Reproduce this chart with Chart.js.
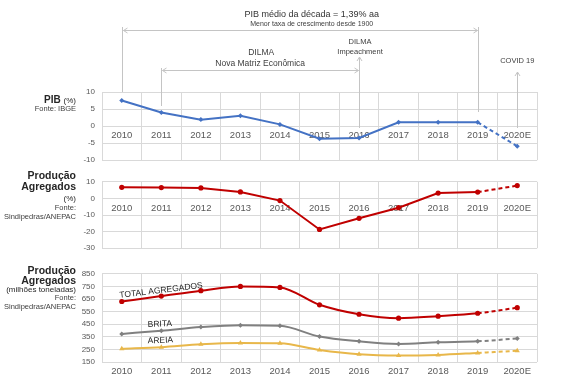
<!DOCTYPE html>
<html><head><meta charset="utf-8">
<script src="https://cdn.jsdelivr.net/npm/chart.js@4"></script>
<style>
body{margin:0;background:#fff;width:567px;height:389px;overflow:hidden;position:relative;font-family:"Liberation Sans",Arial,sans-serif;}
canvas{position:absolute;left:0}
.lab{position:absolute;right:491px;text-align:right;color:#262626;white-space:nowrap;line-height:1}
.b{font-weight:bold;font-size:10.5px}
.s{font-size:8px}
.f{font-size:7.5px;color:#404040}
</style></head><body>
<canvas id="c1" width="567" height="172" style="top:0"></canvas>
<canvas id="c2" width="567" height="90" style="top:170px"></canvas>
<canvas id="c3" width="567" height="127" style="top:262px"></canvas>

<div class="lab" style="top:95px;font-size:10px"><span style="font-weight:bold;font-size:10px">PIB</span> <span style="font-size:8px">(%)</span></div>
<div class="lab f" style="top:105px">Fonte: IBGE</div>

<div class="lab b" style="top:170px">Produção</div>
<div class="lab b" style="top:181px">Agregados</div>
<div class="lab s" style="top:195px">(%)</div>
<div class="lab f" style="top:204px">Fonte:</div>
<div class="lab f" style="top:213px">Sindipedras/ANEPAC</div>

<div class="lab b" style="top:265px">Produção</div>
<div class="lab b" style="top:275px">Agregados</div>
<div class="lab s" style="top:286px">(milhões toneladas)</div>
<div class="lab f" style="top:294px">Fonte:</div>
<div class="lab f" style="top:303px">Sindipedras/ANEPAC</div>

<script>
const categories = ['2010','2011','2012','2013','2014','2015','2016','2017','2018','2019','2020E'];
const pib = [7.5, 4.0, 1.9, 3.0, 0.5, -3.7, -3.5, 1.1, 1.1, 1.1, -5.9];
const prodPct = [6.7, 6.5, 6.3, 3.9, -1.3, -18.7, -12.0, -5.6, 3.2, 3.8, 7.7];
const totalAgregados = [630, 673, 716, 750, 742, 604, 529, 498, 514, 537, 581];
const brita = [373, 398, 427, 442, 437, 352, 314, 293, 306, 314, 337];
const areia = [255, 268, 291, 301, 298, 245, 211, 201, 206, 222, 239];

Chart.defaults.font.family = '"Liberation Sans", Arial, sans-serif';
Chart.defaults.animation = false;
Chart.defaults.devicePixelRatio = 1;

const GRID = '#d9d9d9';
const TICK = '#595959';
const dashLast = { borderDash: c => c.p1DataIndex === categories.length - 1 ? [4, 3] : undefined };

function opts(min, max, step, xAt, top, bottom) {
  return {
    responsive: false,
    maintainAspectRatio: false,
    layout: { padding: { left: 0, right: 30, top: top, bottom: bottom } },
    plugins: { legend: { display: false }, tooltip: { enabled: false } },
    scales: {
      x: {
        type: 'category', offset: true, position: { y: xAt },
        grid: { offset: true, color: GRID, drawTicks: false, tickLength: 0 },
        border: { display: false },
        ticks: { color: TICK, font: { size: 9.5 }, padding: 4, maxRotation: 0, autoSkip: false }
      },
      y: {
        position: 'left', min: min, max: max,
        ticks: { stepSize: step, color: TICK, font: { size: 8 }, padding: 7 },
        grid: { color: GRID, drawTicks: false, tickLength: 0 },
        border: { color: GRID },
        afterFit: s => { s.width = 102; }
      }
    }
  };
}

function arrowHead(ctx, x, y, dir) {
  ctx.beginPath();
  if (dir === 'left') { ctx.moveTo(x + 4, y - 2.5); ctx.lineTo(x, y); ctx.lineTo(x + 4, y + 2.5); }
  if (dir === 'right') { ctx.moveTo(x - 4, y - 2.5); ctx.lineTo(x, y); ctx.lineTo(x - 4, y + 2.5); }
  if (dir === 'up') { ctx.moveTo(x - 2.5, y + 4); ctx.lineTo(x, y); ctx.lineTo(x + 2.5, y + 4); }
  ctx.stroke();
}
function seg(ctx, x1, y1, x2, y2) { ctx.beginPath(); ctx.moveTo(x1, y1); ctx.lineTo(x2, y2); ctx.stroke(); }

const annot = {
  id: 'annot',
  beforeDatasetsDraw(chart) {
    const ctx = chart.ctx, xs = chart.scales.x;
    const X = i => Math.round(xs.getPixelForValue(i)) + 0.5;
    ctx.save();
    ctx.strokeStyle = '#c4c4c4'; ctx.lineWidth = 1;
    seg(ctx, X(0), 27, X(0), 92);
    seg(ctx, X(9), 27, X(9), 112);
    seg(ctx, X(0) + 1, 30.5, X(9) - 1, 30.5);
    arrowHead(ctx, X(0) + 1, 30.5, 'left'); arrowHead(ctx, X(9) - 1, 30.5, 'right');
    seg(ctx, X(1), 68, X(1), 106);
    seg(ctx, X(1) + 1, 70.5, X(6) - 1, 70.5);
    arrowHead(ctx, X(1) + 1, 70.5, 'left'); arrowHead(ctx, X(6) - 1, 70.5, 'right');
    seg(ctx, X(6), 57, X(6), 128); arrowHead(ctx, X(6), 57, 'up');
    seg(ctx, X(10), 72, X(10), 128); arrowHead(ctx, X(10), 72, 'up');
    ctx.restore();
  },
  afterDraw(chart) {
    const ctx = chart.ctx, xs = chart.scales.x;
    const X = i => xs.getPixelForValue(i);
    ctx.save();
    ctx.textAlign = 'center'; ctx.textBaseline = 'middle';
    const ff = '"Liberation Sans", Arial, sans-serif';
    const mid = (X(0) + X(9)) / 2 + 12;
    ctx.fillStyle = '#333';
    ctx.font = '9px ' + ff; ctx.fillText('PIB médio da década = 1,39% aa', mid, 15);
    ctx.fillStyle = '#404040';
    ctx.font = '7px ' + ff; ctx.fillText('Menor taxa de crescimento desde 1900', mid, 24);
    const m2 = (X(1) + X(6)) / 2;
    ctx.font = '8.5px ' + ff;
    ctx.fillText('DILMA', m2 + 1, 53); ctx.fillText('Nova Matriz Econômica', m2, 64);
    ctx.font = '7.5px ' + ff;
    ctx.fillText('DILMA', X(6) + 1, 42); ctx.fillText('Impeachment', X(6) + 1, 52);
    ctx.fillText('COVID 19', X(10), 61);
    ctx.restore();
  }
};

const inlineLabels = {
  id: 'inlineLabels',
  afterDatasetsDraw(chart) {
    const ctx = chart.ctx, xs = chart.scales.x, ys = chart.scales.y;
    const x0 = xs.getPixelForValue(0);
    ctx.save();
    ctx.fillStyle = '#262626';
    ctx.font = '8.5px "Liberation Sans", Arial, sans-serif';
    ctx.textAlign = 'left'; ctx.textBaseline = 'alphabetic';
    ctx.save(); ctx.translate(x0 - 2, ys.getPixelForValue(totalAgregados[0]) - 3.7); ctx.rotate(-0.12);
    ctx.fillText('TOTAL AGREGADOS', 0, 0); ctx.restore();
    ctx.save(); ctx.translate(x0 + 26, ys.getPixelForValue(brita[0]) - 7); ctx.rotate(-0.04);
    ctx.fillText('BRITA', 0, 0); ctx.restore();
    ctx.save(); ctx.translate(x0 + 26, ys.getPixelForValue(areia[0]) - 5.4); ctx.rotate(-0.04);
    ctx.fillText('AREIA', 0, 0); ctx.restore();
    ctx.restore();
  }
};

new Chart(document.getElementById('c1'), {
  type: 'line',
  data: { labels: categories, datasets: [{
    data: pib, borderColor: '#4472C4', backgroundColor: '#4472C4', borderWidth: 2,
    pointStyle: 'rectRot', pointRadius: 2.5, pointBorderWidth: 0, tension: 0, segment: dashLast
  }] },
  options: opts(-10, 10, 5, 0, 92, 10),
  plugins: [annot]
});

new Chart(document.getElementById('c2'), {
  type: 'line',
  data: { labels: categories, datasets: [{
    data: prodPct, borderColor: '#C00000', backgroundColor: '#C00000', borderWidth: 2,
    pointStyle: 'circle', pointRadius: 2.6, pointBorderWidth: 0, tension: 0, segment: dashLast
  }] },
  options: opts(-30, 10, 10, 0, 10, 9)
});

new Chart(document.getElementById('c3'), {
  type: 'line',
  data: { labels: categories, datasets: [
    { data: totalAgregados, borderColor: '#C00000', backgroundColor: '#C00000', borderWidth: 2,
      pointStyle: 'circle', pointRadius: 2.6, pointBorderWidth: 0, cubicInterpolationMode: 'monotone', segment: dashLast },
    { data: brita, borderColor: '#808080', backgroundColor: '#808080', borderWidth: 2,
      pointStyle: 'rectRot', pointRadius: 2.5, pointBorderWidth: 0, cubicInterpolationMode: 'monotone', segment: dashLast },
    { data: areia, borderColor: '#E8B74A', backgroundColor: '#E8B74A', borderWidth: 2,
      pointStyle: 'triangle', pointRadius: 3, pointBorderWidth: 0, cubicInterpolationMode: 'monotone', segment: dashLast }
  ] },
  options: opts(150, 850, 100, 150, 9, 27),
  plugins: [inlineLabels]
});
</script>
</body></html>
